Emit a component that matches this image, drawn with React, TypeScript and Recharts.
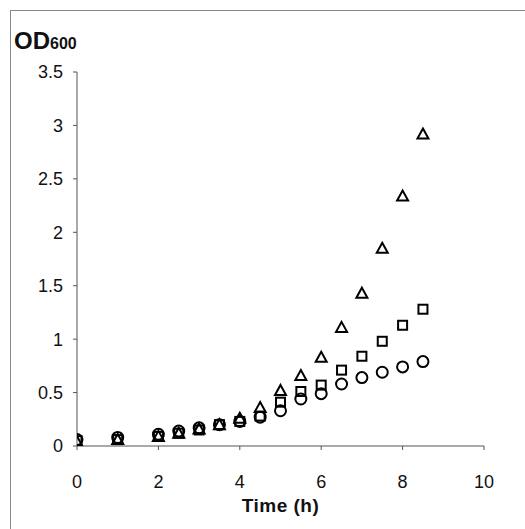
import React from "react";
import { ScatterChart, Scatter, XAxis, YAxis } from "recharts";

const times = [0, 1, 2, 2.5, 3, 3.5, 4, 4.5, 5, 5.5, 6, 6.5, 7, 7.5, 8, 8.5];
const triangleOD = [0.04, 0.06, 0.09, 0.12, 0.16, 0.2, 0.26, 0.36, 0.52, 0.66, 0.83, 1.11, 1.43, 1.85, 2.34, 2.92];
const squareOD = [0.05, 0.06, 0.09, 0.12, 0.15, 0.2, 0.23, 0.28, 0.41, 0.51, 0.57, 0.71, 0.84, 0.98, 1.13, 1.28];
const circleOD = [0.06, 0.08, 0.11, 0.14, 0.17, 0.2, 0.23, 0.27, 0.33, 0.44, 0.49, 0.58, 0.64, 0.69, 0.74, 0.79];
const xTicks = [0, 2, 4, 6, 8, 10];
const yTicks = [0, 0.5, 1, 1.5, 2, 2.5, 3, 3.5];

const toPoints = (vals: number[]) => times.map((t, i) => ({ t, od: vals[i] }));
const triData = toPoints(triangleOD);
const sqData = toPoints(squareOD);
const circData = toPoints(circleOD);

const FONT = "'Liberation Sans', Arial, sans-serif";

const Circle = (p: any) => (
  <circle cx={p.cx} cy={p.cy} r={5.5} fill="none" stroke="#000" strokeWidth={2} />
);
const Square = (p: any) => (
  <rect x={p.cx - 4.5} y={p.cy - 4.5} width={9} height={9} fill="none" stroke="#000" strokeWidth={2} />
);
const Triangle = (p: any) => (
  <polygon
    points={`${p.cx},${p.cy - 5.5} ${p.cx + 5.5},${p.cy + 4.5} ${p.cx - 5.5},${p.cy + 4.5}`}
    fill="none"
    stroke="#000"
    strokeWidth={2}
    strokeLinejoin="miter"
  />
);

const tickStyle = { fontSize: 18, fill: "#111", fontFamily: FONT };

export default function App() {
  return (
    <div style={{ position: "absolute", left: 0, top: 0, width: 525, height: 529, background: "#fff" }}>
      <div
        style={{
          position: "absolute",
          left: 10,
          top: 10,
          width: 520,
          height: 530,
          borderLeft: "1px solid #888",
          borderTop: "1px solid #888",
        }}
      />
      <ScatterChart width={525} height={529} margin={{ top: 72, right: 41, bottom: 23, left: 0 }}>
        <XAxis
          type="number"
          dataKey="t"
          domain={[0, 10]}
          ticks={xTicks}
          allowDataOverflow
          stroke="#555"
          tickSize={4}
          tickMargin={25}
          tick={tickStyle}
          height={60}
          label={{
            content: () => (
              <text
                x={280.5}
                y={512}
                textAnchor="middle"
                fontFamily={FONT}
                fontWeight="bold"
                fontSize={19}
                fill="#111"
                letterSpacing={0.5}
              >
                Time (h)
              </text>
            ),
          }}
        />
        <YAxis
          type="number"
          dataKey="od"
          domain={[0, 3.5]}
          ticks={yTicks}
          allowDataOverflow
          stroke="#555"
          tickSize={4}
          tickMargin={10}
          tick={tickStyle}
          width={77}
          label={{
            content: () => (
              <text x={14} y={49} fontFamily={FONT} fontWeight="bold" fill="#111">
                <tspan fontSize={24}>OD</tspan>
                <tspan fontSize={16}>600</tspan>
              </text>
            ),
          }}
        />
        <Scatter data={circData} shape={Circle} isAnimationActive={false} />
        <Scatter data={sqData} shape={Square} isAnimationActive={false} />
        <Scatter data={triData} shape={Triangle} isAnimationActive={false} />
      </ScatterChart>
    </div>
  );
}
